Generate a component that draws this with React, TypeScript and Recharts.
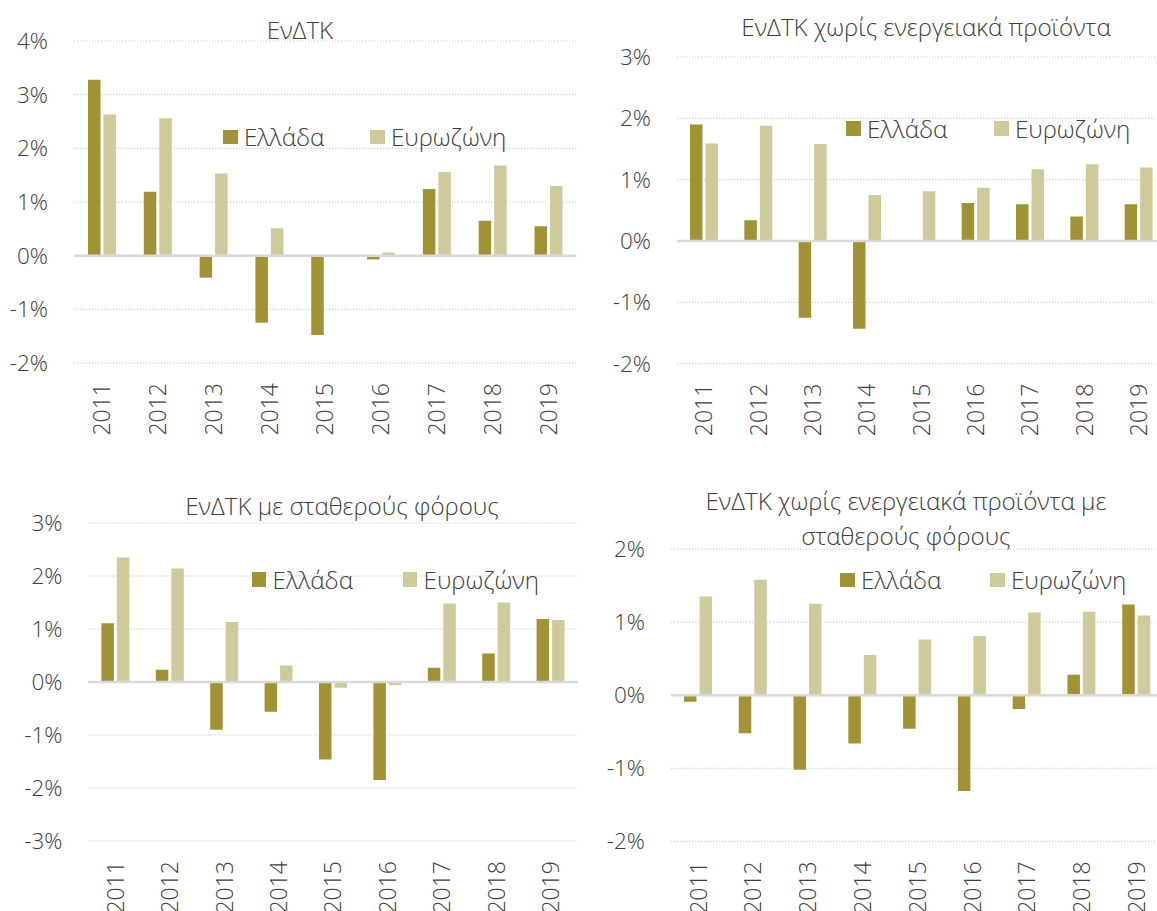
import React from "react";
import { BarChart, Bar, XAxis, YAxis, CartesianGrid, ReferenceLine, Legend } from "recharts";

const years = ["2011", "2012", "2013", "2014", "2015", "2016", "2017", "2018", "2019"];

// ΕνΔΤΚ
const hicpGreece = [3.28, 1.19, -0.41, -1.25, -1.48, -0.07, 1.24, 0.65, 0.55];
const hicpEuro = [2.63, 2.56, 1.53, 0.51, 0, 0.06, 1.56, 1.68, 1.3];

// ΕνΔΤΚ χωρίς ενεργειακά προϊόντα
const coreGreece = [1.9, 0.34, -1.25, -1.43, 0, 0.62, 0.6, 0.4, 0.6];
const coreEuro = [1.59, 1.88, 1.58, 0.75, 0.81, 0.87, 1.17, 1.25, 1.2];

// ΕνΔΤΚ με σταθερούς φόρους
const ctGreece = [1.11, 0.23, -0.9, -0.56, -1.46, -1.85, 0.27, 0.54, 1.19];
const ctEuro = [2.35, 2.14, 1.13, 0.31, -0.11, -0.06, 1.48, 1.5, 1.17];

// ΕνΔΤΚ χωρίς ενεργειακά προϊόντα με σταθερούς φόρους
const coreCtGreece = [-0.09, -0.52, -1.02, -0.66, -0.46, -1.31, -0.19, 0.28, 1.24];
const coreCtEuro = [1.35, 1.58, 1.25, 0.55, 0.76, 0.81, 1.13, 1.14, 1.09];

const ticks1 = [-2, -1, 0, 1, 2, 3, 4];
const ticks2 = [-2, -1, 0, 1, 2, 3];
const ticks3 = [-3, -2, -1, 0, 1, 2, 3];
const ticks4 = [-2, -1, 0, 1, 2];

const GREECE = "#A19333";
const EURO = "#CFCA9A";
const TEXT = "#404040";
const FONT = "'Open Sans', 'Noto Sans', sans-serif";
const FS = 22.5;
const FS_TEXT = 24.2;

const toRows = (g: number[], e: number[]) => years.map((year, i) => ({ year, greece: g[i], euro: e[i] }));

const YearTick = (props: any) => {
  const { x, y, payload } = props;
  return (
    <text
      x={x}
      y={y}
      transform={`rotate(-90 ${x} ${y})`}
      textAnchor="end"
      dy="0.36em"
      fill={TEXT}
      fontSize={23}
      fontFamily={FONT}
      fontWeight={300}
    >
      {payload.value}
    </text>
  );
};

function legendContent(xs: number[], y: number) {
  return (props: any) => (
    <div style={{ position: "relative", width: 0, height: 0 }}>
      {(props.payload || []).map((p: any, i: number) => (
        <div
          key={p.value}
          style={{ position: "absolute", left: xs[i], top: y - 8, display: "flex", alignItems: "center", whiteSpace: "nowrap" }}
        >
          <span style={{ display: "inline-block", width: 14.5, height: 14.5, background: p.color, marginRight: 6.5 }} />
          <span style={{ fontSize: FS_TEXT, color: TEXT, fontFamily: FONT, fontWeight: 300, lineHeight: "16px" }}>{p.value}</span>
        </div>
      ))}
    </div>
  );
}

type PanelProps = {
  left: number;
  top: number;
  width: number;
  height: number;
  yWidth: number;
  xHeight: number;
  margin: { top: number; right: number; left: number; bottom: number };
  domain: [number, number];
  ticks: number[];
  greece: number[];
  euro: number[];
  legendXs: number[];
  legendY: number;
  title: string[];
  titleX: number;
  titleY: number;
};

function Panel(p: PanelProps) {
  const data = toRows(p.greece, p.euro);
  return (
    <div style={{ position: "absolute", left: p.left, top: p.top, width: p.width, height: p.height }}>
      <BarChart width={p.width} height={p.height} data={data} margin={p.margin} barSize={12.5} barGap={3}>
        <CartesianGrid vertical={false} stroke="#c4c4c4" strokeDasharray="1.2 1.8" />
        <XAxis
          dataKey="year"
          axisLine={false}
          tickLine={false}
          tickSize={0}
          tickMargin={20}
          interval={0}
          height={p.xHeight}
          tick={<YearTick />}
        />
        <YAxis
          domain={p.domain}
          ticks={p.ticks}
          allowDataOverflow
          width={p.yWidth}
          axisLine={false}
          tickLine={false}
          tickSize={0}
          tickMargin={26}
          tickFormatter={(v: number) => `${v}%`}
          tick={{ fill: TEXT, fontSize: FS, fontFamily: FONT, fontWeight: 300 }}
        />
        <ReferenceLine y={0} stroke="#d9d9d9" strokeWidth={2.5} />
        <Legend
          layout="horizontal"
          verticalAlign="middle"
          align="center"
          wrapperStyle={{ left: 0, top: 0, width: 0, height: 0 }}
          content={legendContent(p.legendXs, p.legendY)}
        />
        <Bar dataKey="greece" name="Ελλάδα" fill={GREECE} isAnimationActive={false} />
        <Bar dataKey="euro" name="Ευρωζώνη" fill={EURO} isAnimationActive={false} />
      </BarChart>
      <div
        style={{
          position: "absolute",
          left: p.titleX,
          top: p.titleY - 17.5,
          transform: "translateX(-50%)",
          textAlign: "center",
          whiteSpace: "nowrap",
          fontFamily: FONT,
          fontWeight: 300,
          fontSize: FS_TEXT,
          lineHeight: "35px",
          color: TEXT,
        }}
      >
        {p.title.map((t) => (
          <div key={t}>{t}</div>
        ))}
      </div>
    </div>
  );
}

export default function App() {
  return (
    <div style={{ position: "absolute", left: 0, top: 0, width: 1157, height: 911, overflow: "hidden", background: "#fff" }}>
      <Panel
        left={0}
        top={0}
        width={590}
        height={450}
        yWidth={74}
        xHeight={87}
        margin={{ top: 41, right: 13.7, left: 0, bottom: 0 }}
        domain={[-2, 4]}
        ticks={ticks1}
        greece={hicpGreece}
        euro={hicpEuro}
        legendXs={[223, 370]}
        legendY={137}
        title={["ΕνΔΤΚ"]}
        titleX={300}
        titleY={29}
      />
      <Panel
        left={580}
        top={0}
        width={600}
        height={450}
        yWidth={97}
        xHeight={86.3}
        margin={{ top: 57, right: 14, left: 0, bottom: 0 }}
        domain={[-2, 3]}
        ticks={ticks2}
        greece={coreGreece}
        euro={coreEuro}
        legendXs={[266, 414]}
        legendY={128.5}
        title={["ΕνΔΤΚ χωρίς ενεργειακά προϊόντα"]}
        titleX={346}
        titleY={26}
      />
      <Panel
        left={0}
        top={460}
        width={590}
        height={451}
        yWidth={88.4}
        xHeight={70}
        margin={{ top: 63, right: 12, left: 0, bottom: 0 }}
        domain={[-3, 3]}
        ticks={ticks3}
        greece={ctGreece}
        euro={ctEuro}
        legendXs={[251.6, 402.6]}
        legendY={119.7}
        title={["ΕνΔΤΚ με σταθερούς φόρους"]}
        titleX={342}
        titleY={45}
      />
      <Panel
        left={580}
        top={460}
        width={600}
        height={451}
        yWidth={91}
        xHeight={69.7}
        margin={{ top: 89, right: 16, left: 0, bottom: 0 }}
        domain={[-2, 2]}
        ticks={ticks4}
        greece={coreCtGreece}
        euro={coreCtEuro}
        legendXs={[260, 410]}
        legendY={120}
        title={["ΕνΔΤΚ χωρίς ενεργειακά προϊόντα με", "σταθερούς φόρους"]}
        titleX={326}
        titleY={40}
      />
    </div>
  );
}
